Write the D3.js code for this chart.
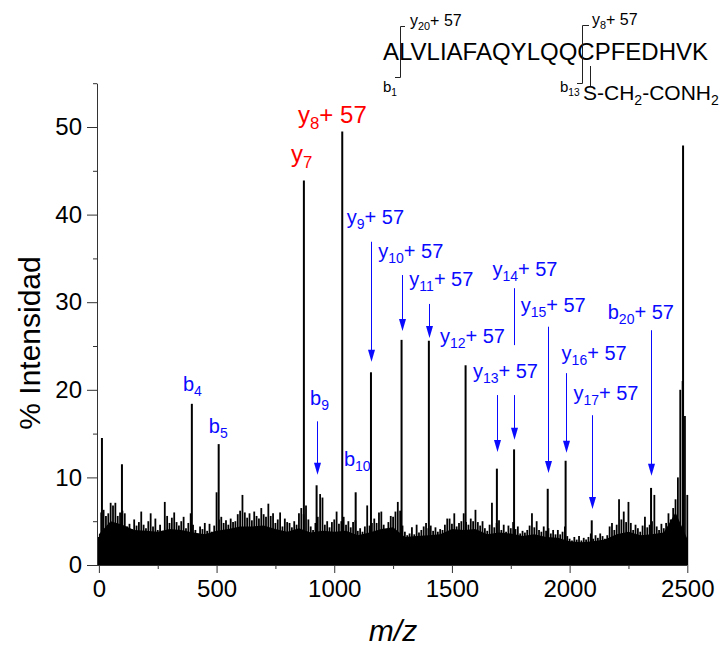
<!DOCTYPE html>
<html lang="es">
<head>
  <meta charset="UTF-8">
  <title>Espectro MS/MS</title>
  <script src="https://cdn.jsdelivr.net/npm/d3@7/dist/d3.min.js"></script>
  <style>
    body { margin: 0; background: #fff; }
    svg { display: block; font-family: "Liberation Sans", Arial, sans-serif; }
  </style>
</head>
<body>
  <script>
    // picos principales (m/z, % intensidad)
    const peakMz  = [13, 98, 395, 509, 871, 925, 1034, 1091, 1156, 1286, 1402, 1558, 1691, 1764, 1907, 1983, 2094, 2346, 2482]
    const peakInt = [14.5, 11.5, 18.4, 13.8, 43.9, 9.1, 49.5, 8.3, 22.0, 25.7, 25.6, 22.8, 11.0, 13.2, 8.7, 11.9, 5.1, 8.8, 47.9]

    // ruido: maximo local cada 10 m/z, desde 0
    const noiseStep = 10
    const noiseInt = [
      3.2, 6.0, 6.3, 5.6, 5.9, 7.1, 6.8, 7.1, 5.6, 6.0,
      6.2, 5.9, 4.4, 4.7, 4.1, 5.2, 4.5, 4.9, 6.1, 4.6,
      4.2, 5.0, 5.9, 4.4, 5.3, 4.0, 4.6, 3.9, 7.2, 5.6,
      4.8, 5.4, 6.0, 4.9, 4.5, 5.0, 5.5, 4.2, 4.8, 5.9,
      4.6, 4.0, 3.6, 4.4, 4.1, 4.8, 3.9, 4.7, 3.8, 4.5,
      8.3, 5.2, 5.5, 4.8, 5.1, 4.6, 5.3, 4.9, 5.0, 5.8,
      6.2, 8.0, 6.0, 5.4, 5.9, 5.1, 6.1, 5.6, 5.3, 6.5,
      5.8, 5.5, 7.0, 5.6, 5.9, 4.8, 5.2, 6.0, 4.4, 5.3,
      4.9, 4.8, 4.3, 5.0, 4.6, 5.9, 6.5, 5.8, 6.8, 5.2,
      4.4, 4.0, 4.8, 5.5, 8.1, 7.7, 4.6, 5.0, 4.3, 4.9,
      5.2, 6.1, 4.7, 5.0, 5.5, 4.6, 5.0, 4.3, 4.9, 5.1,
      3.9, 4.2, 3.8, 4.4, 6.8, 4.5, 4.8, 5.3, 4.8, 6.0,
      6.1, 4.6, 4.0, 4.9, 5.6, 5.5, 6.1, 7.2, 6.2, 4.5,
      3.8, 3.4, 3.6, 4.3, 3.5, 4.6, 3.7, 4.0, 4.4, 4.8,
      4.2, 4.5, 3.9, 4.3, 3.8, 4.1, 4.0, 4.6, 5.3, 5.3,
      4.7, 5.9, 4.4, 4.8, 5.0, 5.9, 4.9, 4.6, 5.3, 5.0,
      6.3, 4.9, 4.5, 5.0, 4.2, 3.9, 4.6, 7.1, 4.3, 4.8,
      5.1, 4.0, 4.6, 3.8, 4.5, 4.2, 4.9, 4.1, 4.4, 3.6,
      3.9, 3.7, 4.0, 4.5, 5.9, 4.3, 5.0, 4.0, 3.8, 4.4,
      3.9, 4.2, 3.6, 4.0, 3.5, 4.0, 3.5, 3.8, 4.4, 3.3,
      3.0, 2.8, 3.2, 2.9, 3.3, 2.8, 3.1, 2.9, 3.2, 3.6,
      3.0, 3.4, 3.1, 3.6, 3.3, 3.0, 3.4, 4.4, 4.8, 4.0,
      4.6, 7.5, 5.2, 6.1, 4.9, 7.2, 4.8, 4.0, 4.6, 4.2,
      3.8, 4.5, 5.5, 4.3, 4.6, 5.0, 8.0, 4.4, 4.0, 4.7,
      4.2, 4.8, 5.9, 5.2, 6.5, 7.5, 10.0, 20.0, 21.0, 17.0,
      8.0
    ]

    // fondo continuo del ruido, cada 50 m/z
    const floorStep = 50
    const floorInt = [
      3.5, 5.0, 4.6, 4.0, 3.9, 3.8, 4.1, 4.0, 3.7, 3.5,
      3.9, 4.1, 4.4, 4.4, 4.5, 4.1, 3.8, 4.2, 3.7, 3.9,
      3.8, 3.9, 3.4, 3.7, 4.1, 4.3, 3.2, 3.3, 3.4, 3.5,
      4.1, 4.0, 4.1, 3.5, 3.7, 3.6, 3.3, 3.5, 3.2, 3.1,
      2.7, 2.6, 2.7, 2.9, 3.5, 3.8, 3.4, 3.5, 3.7, 6.0,
      3.0
    ]

    const xTicks = [0, 500, 1000, 1500, 2000, 2500]
    const xMinor = [250, 750, 1250, 1750, 2250]
    const yTicks = [0, 10, 20, 30, 40, 50]
    const yMinor = [5, 15, 25, 35, 45, 55]

    // etiquetas de iones: base, subindice, sufijo, posicion (m/z, intensidad)
    const ionBase = ['b', 'b', 'y', 'y', 'b', 'b', 'y', 'y', 'y', 'y', 'y', 'y', 'y', 'y', 'y', 'b']
    const ionSub  = ['4', '5', '7', '8', '9', '10', '9', '10', '11', '12', '13', '14', '15', '16', '17', '20']
    const ionSuf  = ['', '', '', '+ 57', '', '', '+ 57', '+ 57', '+ 57', '+ 57', '+ 57', '+ 57', '+ 57', '+ 57', '+ 57', '+ 57']
    const ionRed  = [false, false, true, true, false, false, false, false, false, false, false, false, false, false, false, false]
    const ionMz   = [357, 467, 816, 846, 897, 1041, 1053, 1187, 1319, 1449, 1589, 1672, 1792, 1966, 2016, 2162]
    const ionAt   = [19.9, 15.1, 46.0, 50.5, 18.3, 11.3, 38.9, 35.0, 31.9, 25.3, 21.4, 33.0, 28.9, 23.4, 18.8, 28.1]

    // flechas: m/z, desde, hasta (intensidad), con punta
    const arrowMz   = [925, 1156, 1286, 1402, 1691, 1764, 1764, 1910, 1983, 2094, 2346]
    const arrowFrom = [16.4, 36.9, 33.1, 29.8, 19.4, 31.6, 19.4, 27.2, 21.9, 17.1, 26.8]
    const arrowTo   = [10.3, 23.2, 26.7, 25.9, 12.9, 25.1, 14.3, 10.5, 12.8, 6.4, 10.2]
    const arrowHead = [true, true, true, true, true, false, true, true, true, true, true]

    const W = 726, H = 653
    const blue = '#0a0aff', red = '#ff0000', axisColor = '#333'

    const svg = d3.select('body').append('svg')
      .attr('width', W).attr('height', H)

    const x = d3.scaleLinear().domain([-8, 2500]).range([97, 687.3])
    const y = d3.scaleLinear().domain([0, 55]).range([565, 83.2])

    // fondo de ruido
    const floorData = floorInt.map((v, i) => [i * floorStep, v])
    svg.append('path')
      .datum(floorData)
      .attr('fill', '#000')
      .attr('d', d3.area().x(d => x(d[0])).y0(y(0)).y1(d => y(d[1])))

    // ruido en barras finas
    svg.append('g').selectAll('line')
      .data(noiseInt)
      .join('line')
      .attr('x1', (d, i) => x(i * noiseStep))
      .attr('x2', (d, i) => x(i * noiseStep))
      .attr('y1', y(0))
      .attr('y2', d => y(d))
      .attr('stroke', '#000')
      .attr('stroke-width', 1.8)

    // picos
    svg.append('g').selectAll('line')
      .data(peakMz)
      .join('line')
      .attr('x1', d => x(d))
      .attr('x2', d => x(d))
      .attr('y1', y(0))
      .attr('y2', (d, i) => y(peakInt[i]))
      .attr('stroke', '#000')
      .attr('stroke-width', 2)

    // ejes
    const xAxis = svg.append('g')
      .attr('transform', `translate(0,${y(0)})`)
      .call(d3.axisBottom(x).tickValues(xTicks).tickFormat(d3.format('d'))
        .tickSize(8).tickPadding(7).tickSizeOuter(0))
    const yAxis = svg.append('g')
      .attr('transform', 'translate(97,0)')
      .call(d3.axisLeft(y).tickValues(yTicks).tickSize(10).tickPadding(5).tickSizeOuter(0))
    svg.append('g')
      .attr('transform', `translate(0,${y(0)})`)
      .call(d3.axisBottom(x).tickValues(xMinor).tickSize(4).tickFormat('').tickSizeOuter(0))
      .select('.domain').remove()
    svg.append('g')
      .attr('transform', 'translate(97,0)')
      .call(d3.axisLeft(y).tickValues(yMinor).tickSize(4).tickFormat('').tickSizeOuter(0))
      .select('.domain').remove()

    svg.selectAll('.domain, .tick line').attr('stroke', axisColor)
    xAxis.select('.domain').attr('d', `M97,0.5H${x(2500)}`)
    svg.selectAll('.tick text')
      .attr('font-family', '"Liberation Sans", Arial, sans-serif')
      .attr('font-size', 24)
      .attr('fill', '#000')

    // titulos de ejes
    svg.append('text')
      .attr('transform', 'translate(40,343) rotate(-90)')
      .attr('text-anchor', 'middle')
      .attr('font-size', 30)
      .text('% Intensidad')
    svg.append('text')
      .attr('x', 393).attr('y', 641)
      .attr('text-anchor', 'middle')
      .attr('font-size', 30)
      .attr('font-style', 'italic')
      .text('m/z')

    // flechas
    ionArrows()
    function ionArrows() {
      const g = svg.append('g')
      arrowMz.forEach((mz, i) => {
        const ax = Math.round(x(mz)) + 0.5
        const y0 = y(arrowFrom[i])
        const y1 = y(arrowTo[i])
        g.append('line')
          .attr('x1', ax).attr('x2', ax)
          .attr('y1', y0).attr('y2', arrowHead[i] ? y1 - 8 : y1)
          .attr('stroke', blue).attr('stroke-width', 1)
        if (arrowHead[i]) {
          g.append('path')
            .attr('d', `M${ax - 3.5},${y1 - 12}L${ax + 3.5},${y1 - 12}L${ax},${y1}Z`)
            .attr('fill', blue)
        }
      })
    }

    // etiquetas de iones
    ionBase.forEach((b, i) => {
      const big = ionRed[i] ? 24 : 20
      const t = svg.append('text')
        .attr('x', x(ionMz[i]))
        .attr('y', y(ionAt[i]))
        .attr('font-size', big)
        .attr('fill', ionRed[i] ? red : blue)
      t.append('tspan').text(b)
      t.append('tspan').attr('font-size', big * 0.7).attr('dy', big * 0.25).text(ionSub[i])
      if (ionSuf[i]) t.append('tspan').attr('dy', -big * 0.25).text(ionSuf[i])
    })

    // secuencia del peptido
    const seq = svg.append('g')
    seq.append('text')
      .attr('x', 383).attr('y', 60)
      .attr('font-size', 24)
      .text('ALVLIAFAQYLQQCPFEDHVK')

    seq.append('path')
      .attr('d', 'M405,26.5H400.5V77.5H395')
      .attr('fill', 'none').attr('stroke', '#222').attr('stroke-width', 1)
    seq.append('path')
      .attr('d', 'M589,25.5H582.5V83.5H577')
      .attr('fill', 'none').attr('stroke', '#222').attr('stroke-width', 1)
    seq.append('line')
      .attr('x1', 590.5).attr('x2', 590.5).attr('y1', 66).attr('y2', 86)
      .attr('stroke', '#222').attr('stroke-width', 1)

    function subLabel(px, py, size, base, sub, suf) {
      const t = seq.append('text').attr('x', px).attr('y', py).attr('font-size', size)
      t.append('tspan').text(base)
      t.append('tspan').attr('font-size', size * 0.68).attr('dy', size * 0.25).text(sub)
      if (suf) t.append('tspan').attr('dy', -size * 0.25).text(suf)
      return t
    }
    subLabel(410, 26, 16, 'y', '20', '+ 57')
    subLabel(592, 25, 16, 'y', '8', '+ 57')
    subLabel(383, 92, 15, 'b', '1', '')
    subLabel(560, 92, 15, 'b', '13', '')

    const sch = seq.append('text').attr('x', 583).attr('y', 100).attr('font-size', 21)
    sch.append('tspan').text('S-CH')
    sch.append('tspan').attr('font-size', 14).attr('dy', 5).text('2')
    sch.append('tspan').attr('dy', -5).text('-CONH')
    sch.append('tspan').attr('font-size', 14).attr('dy', 5).text('2')
  </script>
</body>
</html>
